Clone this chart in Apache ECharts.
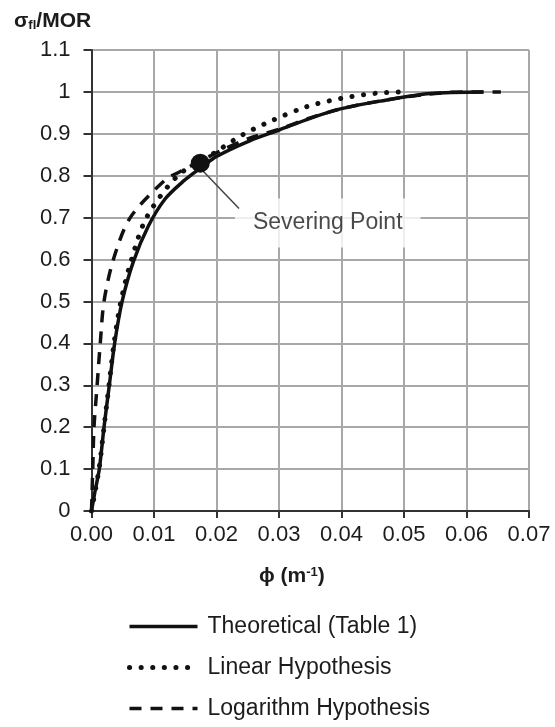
<!DOCTYPE html>
<html>
<head>
<meta charset="utf-8">
<script src="https://cdn.jsdelivr.net/npm/echarts@6/dist/echarts.min.js"></script>
<style>html,body{margin:0;padding:0;background:#fff;}#c{width:555px;height:727px;}</style>
</head>
<body>
<div id="c"></div>
<script>
// Theoretical (Table 1)
var phiTheo   = [0, 0.0006, 0.00125, 0.002, 0.00285, 0.0037, 0.0049, 0.0067, 0.0091, 0.0118, 0.0147, 0.0174, 0.02, 0.0254, 0.03, 0.035, 0.04, 0.0462, 0.0542, 0.0627];
var sigmaTheo = [0, 0.05, 0.1, 0.2, 0.3, 0.4, 0.5, 0.595, 0.68, 0.745, 0.787, 0.818, 0.846, 0.884, 0.909, 0.937, 0.96, 0.978, 0.996, 1.0];
// Linear Hypothesis
var phiLin    = [0, 0.0012, 0.002, 0.0028, 0.0036, 0.0047, 0.0064, 0.0088, 0.0138, 0.0193, 0.0241, 0.0291, 0.0345, 0.0401, 0.0457, 0.05];
var sigmaLin  = [0, 0.1, 0.2, 0.3, 0.4, 0.5, 0.6, 0.7, 0.8, 0.851, 0.897, 0.933, 0.965, 0.985, 0.997, 1.0];
// Logarithm Hypothesis
var phiLog    = [0, 0.0002, 0.0004, 0.0009, 0.0014, 0.002, 0.0035, 0.0062, 0.0118, 0.0142, 0.0174, 0.021, 0.025, 0.03, 0.035, 0.04, 0.046, 0.054, 0.06, 0.0655];
var sigmaLog  = [0, 0.1, 0.2, 0.3, 0.4, 0.5, 0.6, 0.7, 0.79, 0.81, 0.835, 0.862, 0.888, 0.911, 0.938, 0.96, 0.978, 0.995, 1.0, 1.0];
// Severing point and callout
var severPoint = [0.0174, 0.83];
var leaderPhi   = [0.0178, 0.0236];
var leaderSigma = [0.812, 0.722];
var calloutPos  = [0.0378, 0.687];
var calloutText = 'Severing Point';
var xTicks = [0, 0.07, 0.01];
var yTicks = [0, 1.1, 0.1];
var seriesNames = ['Theoretical (Table 1)', 'Linear Hypothesis', 'Logarithm Hypothesis'];

function pairs(xs, ys) { return xs.map(function (x, i) { return [x, ys[i]]; }); }

var FONT = '"Liberation Sans", Arial, sans-serif';
var solidStyle = { color: '#111', width: 3.5, type: 'solid' };
var dotStyle = { color: '#111', width: 5, type: [0.1, 11.5], cap: 'round' };
var dashStyle = { color: '#111', width: 3.5, type: [12, 9] };
var chart = echarts.init(document.getElementById('c'), null, { renderer: 'canvas' });
chart.setOption({
  backgroundColor: '#fff',
  animation: false,
  title: [
    { left: 9, top: 5, text: '{a|σ}{b|fl}{a|/MOR}',
      textStyle: { rich: {
        a: { fontFamily: FONT, fontWeight: 'bold', fontSize: 21, color: '#1c1c1c' },
        b: { fontFamily: FONT, fontWeight: 'bold', fontSize: 13, color: '#1c1c1c', verticalAlign: 'bottom', padding: [9, 0, 0, 0] }
      } } },
    { left: 254, top: 561, text: '{a|ϕ (m}{s|-1}{a|)}',
      textStyle: { rich: {
        a: { fontFamily: FONT, fontWeight: 'bold', fontSize: 21, color: '#1c1c1c' },
        s: { fontFamily: FONT, fontWeight: 'bold', fontSize: 13, color: '#1c1c1c', verticalAlign: 'top', padding: [0, 0, 8, 0] }
      } } }
  ],
  grid: { left: 91.5, right: 26, top: 50, bottom: 216, containLabel: false },
  legend: {
    orient: 'vertical', left: 127, top: 614, padding: 0,
    itemWidth: 68, itemHeight: 14, itemGap: 16,
    data: [
      { name: seriesNames[0], itemStyle: { opacity: 0 }, lineStyle: solidStyle },
      { name: seriesNames[1], itemStyle: { opacity: 0 }, lineStyle: dotStyle },
      { name: seriesNames[2], itemStyle: { opacity: 0 }, lineStyle: dashStyle }
    ],
    textStyle: { fontFamily: FONT, fontSize: 23, color: '#1c1c1c', lineHeight: 25, padding: [0, 0, 0, 5] }
  },
  xAxis: {
    type: 'value', min: xTicks[0], max: xTicks[1], interval: xTicks[2],
    axisLine: { show: true, lineStyle: { color: '#333', width: 2 } },
    axisTick: { show: true, length: 7, lineStyle: { color: '#333', width: 2 } },
    axisLabel: { fontFamily: FONT, fontSize: 22, color: '#1c1c1c', margin: 13, formatter: function (v) { return v.toFixed(2); } },
    splitLine: { show: true, lineStyle: { color: '#a8a8a8', width: 2 } }
  },
  yAxis: {
    type: 'value', min: yTicks[0], max: yTicks[1], interval: yTicks[2],
    axisLine: { show: true, lineStyle: { color: '#333', width: 2 } },
    axisTick: { show: true, length: 8, lineStyle: { color: '#333', width: 2 } },
    axisLabel: { fontFamily: FONT, fontSize: 22, color: '#1c1c1c', margin: 21, formatter: function (v) { return String(Math.round(v * 10) / 10); } },
    splitLine: { show: true, lineStyle: { color: '#a8a8a8', width: 2 } }
  },
  series: [
    { name: seriesNames[0], type: 'line', data: pairs(phiTheo, sigmaTheo), symbol: 'none', smooth: 0.3, z: 4,
      lineStyle: solidStyle, itemStyle: { color: '#111' } },
    { name: seriesNames[1], type: 'line', data: pairs(phiLin, sigmaLin), symbol: 'none', smooth: 0.3, z: 5,
      lineStyle: dotStyle, itemStyle: { color: '#111' } },
    { name: seriesNames[2], type: 'line', data: pairs(phiLog, sigmaLog), symbol: 'none', smooth: 0.3, z: 3,
      lineStyle: dashStyle, itemStyle: { color: '#111' } },
    { name: 'leader', type: 'line', data: pairs(leaderPhi, leaderSigma), symbol: 'none', z: 6, silent: true,
      lineStyle: { color: '#444', width: 1.5 } },
    { name: 'callout', type: 'scatter', data: [calloutPos], symbolSize: 0, z: 2, silent: true,
      label: { show: true, position: 'inside', formatter: calloutText, fontFamily: FONT, fontSize: 23, color: '#1c1c1c',
        backgroundColor: '#fff', padding: [13, 18, 13, 18] } },
    { name: 'sever', type: 'scatter', data: [severPoint], symbol: 'circle', symbolSize: 19, z: 7, silent: true,
      itemStyle: { color: '#111', opacity: 1 } }
  ]
});
</script>
</body>
</html>
